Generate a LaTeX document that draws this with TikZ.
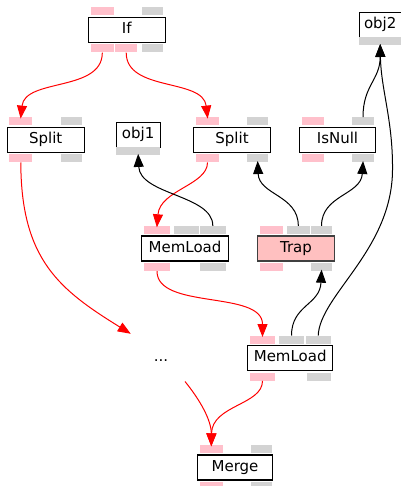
\documentclass[tikz,border=0pt]{standalone}
\usepackage{fontspec}
\setmainfont{DejaVu Sans}
\usetikzlibrary{arrows.meta}
\definecolor{portpink}{RGB}{255,192,203}
\definecolor{portgray}{RGB}{211,211,211}
\definecolor{trapfill}{RGB}{255,192,192}
\tikzset{
  opbox/.style={draw=black, line width=1.1pt, fill=white, minimum height=25pt, inner sep=0pt,
    font=\fontsize{15}{18}\selectfont, text height=10.8pt, text depth=3.6pt},
  objbox/.style={draw=black, line width=0.8pt, fill=white, minimum height=24.6pt, inner sep=0pt,
    font=\fontsize{15}{18}\selectfont, text height=10.8pt, text depth=3.6pt},
  pp/.style={fill=portpink, minimum height=8pt, inner sep=0pt},
  gp/.style={fill=portgray, minimum height=8pt, inner sep=0pt},
  mem/.style={red, line width=1pt, -{Triangle[length=13pt,width=10pt]}, shorten >=-1.5pt},
  dat/.style={black, line width=1pt, -{Triangle[length=13pt,width=10pt]}, shorten >=-1.5pt}
}
\begin{document}
\begin{tikzpicture}[x=1pt,y=-1pt]
\useasboundingbox (0,0) rectangle (400,486);
% If
\node[opbox, minimum width=76.7] (if) at (126.7,30) {If};
\node[pp, minimum width=22.7] (if-t0) at (102.3,11.5) {};
\node[gp, minimum width=21.3] (if-t1) at (152.3,11.5) {};
\node[pp, minimum width=22.7] (if-b0) at (102.3,48.5) {};
\node[pp, minimum width=22.3] (if-b1) at (126.2,48.5) {};
\node[gp, minimum width=21.3] (if-b2) at (152.3,48.5) {};
% Split left
\node[opbox, minimum width=76.7] (spl1) at (45.7,139.8) {Split};
\node[pp, minimum width=23] (spl1-t0) at (20.8,121.3) {};
\node[gp, minimum width=21] (spl1-t1) at (71.2,121.3) {};
\node[pp, minimum width=23] (spl1-b0) at (20.8,158.3) {};
\node[gp, minimum width=21] (spl1-b1) at (71.2,158.3) {};
% obj1
\node[objbox, minimum width=44.3] (obj1) at (138.2,134.7) {obj1};
\node[gp, minimum width=44.3] (obj1-b) at (138.2,151.2) {};
% Split middle
\node[opbox, minimum width=77.4] (spl2) at (232,139.8) {Split};
\node[pp, minimum width=23] (spl2-t0) at (207.5,121.3) {};
\node[gp, minimum width=21.3] (spl2-t1) at (257.7,121.3) {};
\node[pp, minimum width=23] (spl2-b0) at (207.5,158.3) {};
\node[gp, minimum width=21.3] (spl2-b1) at (257.7,158.3) {};
% IsNull
\node[opbox, minimum width=76.4] (isn) at (337.5,139.8) {IsNull};
\node[pp, minimum width=22.3] (isn-t0) at (312.8,121.3) {};
\node[gp, minimum width=21.4] (isn-t1) at (363,121.3) {};
\node[pp, minimum width=22.3] (isn-b0) at (312.8,158.3) {};
\node[gp, minimum width=21.4] (isn-b1) at (363,158.3) {};
% obj2
\node[objbox, minimum width=41.7] (obj2) at (380.2,25) {obj2};
\node[gp, minimum width=41.7] (obj2-b) at (380.2,41.3) {};
% MemLoad upper
\node[opbox, minimum width=86.6] (ml1) at (185,248.5) {MemLoad};
\node[pp, minimum width=26] (ml1-t0) at (157,230) {};
\node[gp, minimum width=25.3] (ml1-t1) at (186.3,230) {};
\node[gp, minimum width=25.7] (ml1-t2) at (212.8,230) {};
\node[pp, minimum width=26] (ml1-b0) at (157,267) {};
\node[gp, minimum width=25.7] (ml1-b1) at (212.8,267) {};
% Trap
\node[opbox, minimum width=76.6, fill=trapfill, draw=black!75] (trap) at (296,248.5) {Trap};
\node[pp, minimum width=23] (trap-t0) at (271.5,230) {};
\node[gp, minimum width=22.7] (trap-t1) at (298.3,230) {};
\node[gp, minimum width=21.6] (trap-t2) at (321.5,230) {};
\node[pp, minimum width=23] (trap-b0) at (271.5,267) {};
\node[gp, minimum width=21.6] (trap-b1) at (321.5,267) {};
% MemLoad lower
\node[opbox, minimum width=85] (ml2) at (290.2,358.2) {MemLoad};
\node[pp, minimum width=25] (ml2-t0) at (262.5,339.7) {};
\node[gp, minimum width=24.4] (ml2-t1) at (291.5,339.7) {};
\node[gp, minimum width=25] (ml2-t2) at (318.2,339.7) {};
\node[pp, minimum width=25] (ml2-b0) at (262.5,376.7) {};
\node[gp, minimum width=23.4] (ml2-b1) at (319,376.7) {};
% Merge
\node[opbox, minimum width=74.6] (mrg) at (235,467.5) {Merge};
\node[pp, minimum width=22.7] (mrg-t0) at (211.3,449) {};
\node[gp, minimum width=21.3] (mrg-t1) at (261.7,449) {};
\node[pp, minimum width=22.7] (mrg-b0) at (211.3,486) {};
\node[gp, minimum width=21.3] (mrg-b1) at (261.7,486) {};
% dots
\node[font=\fontsize{15}{18}\selectfont, anchor=base, inner sep=0pt] (dots) at (161,361) {...};
\coordinate (dots-in) at (129.5,333);
\coordinate (dots-out) at (185,381.5);
% memory edges
\draw[mem] (if-b0.south) .. controls (102.3,92) and (25,78) .. (spl1-t0.north);
\draw[mem] (if-b1.south) .. controls (126.2,92) and (203,78) .. (spl2-t0.north);
\draw[mem] (spl1-b0.south) .. controls (21,260) and (60,290) .. (dots-in);
\draw[mem] (dots-out) .. controls (200,400) and (211.3,420) .. (mrg-t0.north);
\draw[mem] (ml2-b0.south) .. controls (262.5,405) and (212,405) .. (mrg-t0.north);
\draw[mem] (spl2-b0.south) .. controls (207.5,185) and (160,190) .. (ml1-t0.north);
\draw[mem] (ml1-b0.south) .. controls (157,310) and (262.5,290) .. (ml2-t0.north);
% data edges
\draw[dat] (ml1-t2.north) .. controls (213,195) and (140,195) .. (obj1-b.south);
\draw[dat] (trap-t1.north) .. controls (298.3,195) and (259,195) .. (spl2-b1.south);
\draw[dat] (trap-t2.north) .. controls (321.5,195) and (361,195) .. (isn-b1.south);
\draw[dat] (isn-t1.north) .. controls (363,85) and (380.2,80) .. (obj2-b.south);
\draw[dat] (ml2-t2.north) .. controls (320,295) and (392,250) .. (392.5,170) .. controls (393,120) and (381,90) .. (obj2-b.south);
\draw[dat] (ml2-t1.north) .. controls (291.5,305) and (320,305) .. (trap-b1.south);
\end{tikzpicture}
\end{document}
